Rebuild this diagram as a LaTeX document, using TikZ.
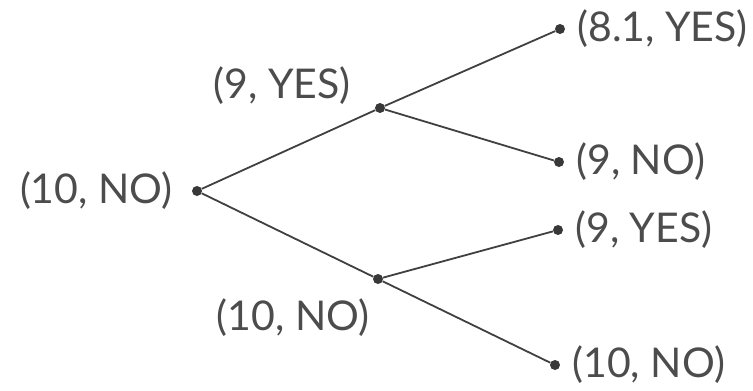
\documentclass[tikz,border=0pt]{standalone}
\usepackage{fontspec}
\setmainfont{Lato}
\usetikzlibrary{positioning}

\begin{document}
\begin{tikzpicture}[x=1pt,y=-1pt,
  dot/.style={circle,fill=black!78,inner sep=0pt,minimum size=10pt},
  lbl/.style={font=\fontsize{41}{45}\selectfont,text=black!70,inner sep=0pt},
  edge/.style={draw=black!75,line width=1.8pt}]
\useasboundingbox (0,0) rectangle (753,391);

\node[dot] (r) at (197,191) {};
\node[dot] (u) at (380,108) {};
\node[dot] (d) at (378,279) {};
\node[dot] (uu) at (560,29) {};
\node[dot] (ud) at (559,162) {};
\node[dot] (du) at (558,230) {};
\node[dot] (dd) at (555,365) {};

\path[edge] (r) -- (u);
\path[edge] (r) -- (d);
\path[edge] (u) -- (uu);
\path[edge] (u) -- (ud);
\path[edge] (d) -- (du);
\path[edge] (d) -- (dd);

\node[lbl, left=19pt of r] (r-lbl) {(10, NO)};
\node[lbl] (u-lbl) at (282,86) {(9, YES)};
\node[lbl] (d-lbl) at (293,318) {(10, NO)};
\node[lbl, right=12pt of uu] (uu-lbl) {(8.1, YES)};
\node[lbl, right=12pt of ud] (ud-lbl) {(9, NO)};
\node[lbl, right=12pt of du] (du-lbl) {(9, YES)};
\node[lbl, right=12pt of dd] (dd-lbl) {(10, NO)};

\end{tikzpicture}
\end{document}
